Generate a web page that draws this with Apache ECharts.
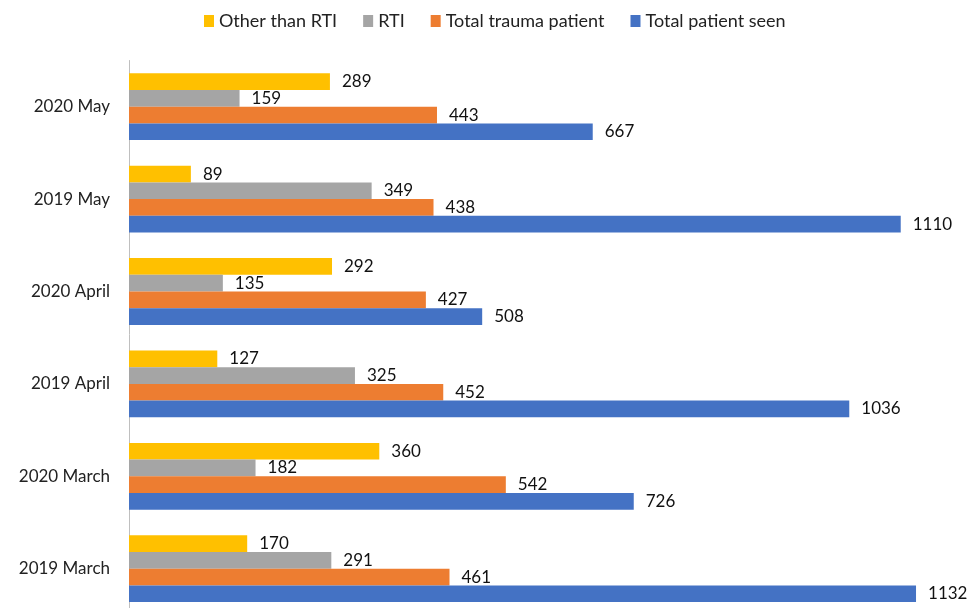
<!DOCTYPE html>
<html>
<head>
<meta charset="utf-8">
<script src="https://cdn.jsdelivr.net/npm/echarts@6/dist/echarts.min.js"></script>
<style>html,body{margin:0;padding:0;background:#fff}#c{width:968px;height:608px}</style>
</head>
<body>
<div id="c"></div>
<script>
const categories = ['2019 March', '2020 March', '2019 April', '2020 April', '2019 May', '2020 May'];
const otherThanRTI = [170, 360, 127, 292, 89, 289];
const rti = [291, 182, 325, 135, 349, 159];
const totalTrauma = [461, 542, 452, 427, 438, 443];
const totalSeen = [1132, 726, 1036, 508, 1110, 667];
const seriesNames = ['Other than RTI', 'RTI', 'Total trauma patient', 'Total patient seen'];
const colors = ['#FFC000', '#A5A5A5', '#ED7D31', '#4472C4'];
const values = [otherThanRTI, rti, totalTrauma, totalSeen];

const font = 'Lato, "Open Sans", sans-serif';
const chart = echarts.init(document.getElementById('c'));
chart.setOption({
  animation: false,
  textStyle: { fontFamily: font },
  legend: {
    top: 7,
    left: 199,
    itemWidth: 10,
    itemHeight: 12,
    itemGap: 26,
    icon: 'rect',
    textStyle: { fontSize: 18, color: '#222', fontFamily: font },
    data: seriesNames
  },
  grid: { left: 129, top: 60.5, width: 834.3, height: 554.4, containLabel: false, outerBoundsMode: 'none' },
  xAxis: {
    type: 'value', min: 0, max: 1200,
    axisLabel: { show: false }, splitLine: { show: false },
    axisLine: { show: false }, axisTick: { show: false }
  },
  yAxis: {
    type: 'category', data: categories,
    axisLine: { show: true, lineStyle: { color: '#BFBFBF', width: 1 } },
    axisTick: { show: false },
    axisLabel: { fontSize: 17, color: '#222', margin: 19, fontFamily: font }
  },
  series: seriesNames.map((n, i) => ({
    name: n, type: 'bar', data: values[i],
    barWidth: 16.7, barGap: '0%',
    itemStyle: { color: colors[i] },
    label: { show: true, position: 'right', distance: 12, fontSize: 17, color: '#111', fontFamily: font }
  }))
});
</script>
</body>
</html>
